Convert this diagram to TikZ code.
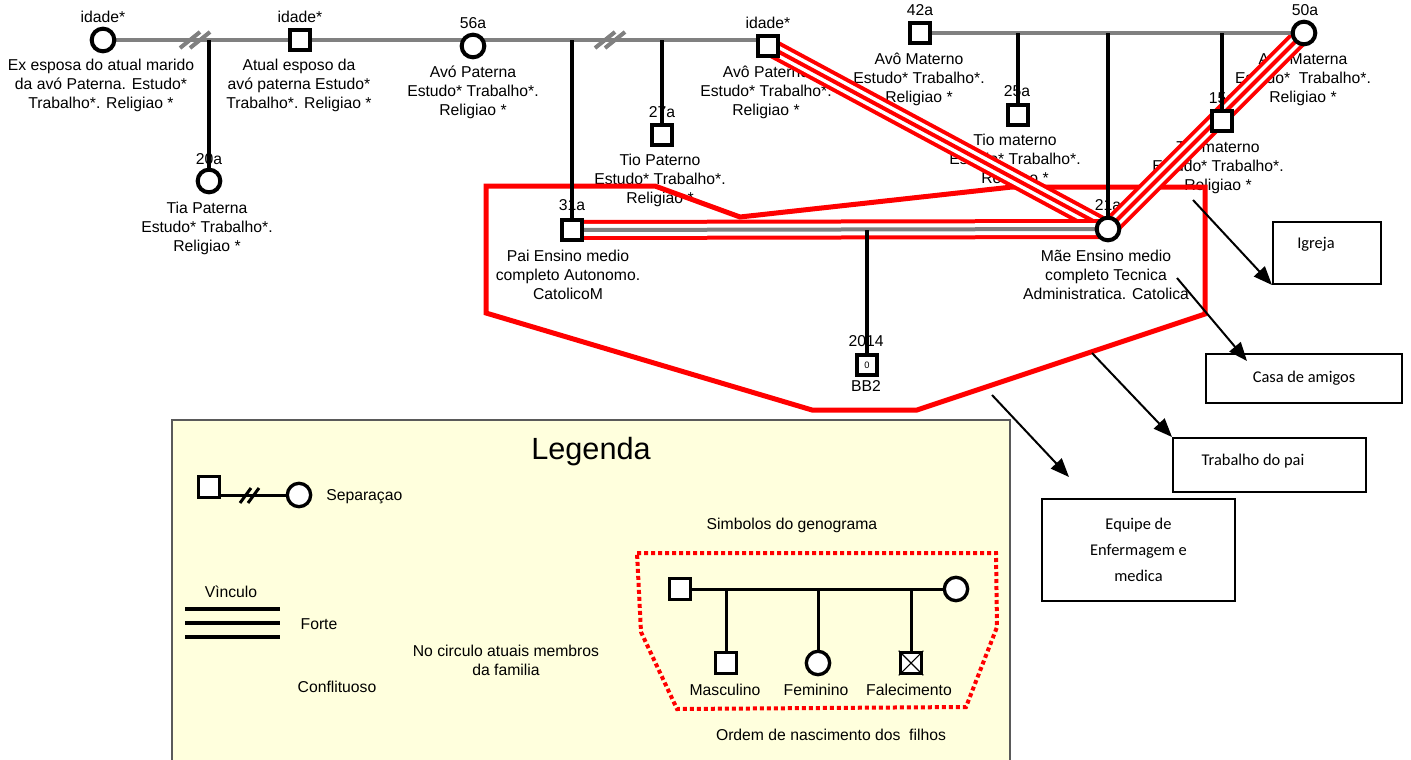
\documentclass[tikz,border=0pt]{standalone}
\usepackage{fontspec}
\setmainfont{Liberation Sans}
\newfontfamily\calib{Carlito}
\usetikzlibrary{arrows.meta}
\pgfdeclarelayer{bgl}
\pgfdeclarelayer{txt}
\pgfdeclarelayer{lns}
\pgfsetlayers{bgl,txt,lns,main}
\definecolor{legfill}{RGB}{255,255,221}
\definecolor{legdraw}{RGB}{90,90,90}
\definecolor{lgray}{RGB}{128,128,128}
\begin{document}
\begin{tikzpicture}[x=0.75pt,y=-0.75pt,
  lbl/.style={align=center, inner sep=0pt, font=\fontsize{11.8}{14.25}\selectfont},
  msq/.style={rectangle, draw=black, line width=3pt, fill=white, minimum size=15.5pt, inner sep=0pt},
  fci/.style={circle, draw=black, line width=3pt, fill=white, minimum size=17pt, inner sep=0pt},
  lsq/.style={rectangle, draw=black, line width=2.5pt, fill=white, minimum size=16pt, inner sep=0pt},
  lci/.style={circle, draw=black, line width=2.5pt, fill=white, minimum size=17.5pt, inner sep=0pt},
  gline/.style={draw=lgray, line width=3pt},
  kline/.style={draw=black, line width=3pt},
  lline/.style={draw=black, line width=2.25pt},
  famc/.style={draw=red, line width=3.75pt, line join=miter},
  forte/.style={draw=red, line width=14.25pt, postaction={draw=white, line width=8.25pt}, postaction={draw=red, line width=3pt}},
  forteg/.style={draw=red, line width=15pt, postaction={draw=white, line width=9pt}, postaction={draw=lgray, line width=3pt}},
  rbox/.style={draw=black, line width=1.5pt, inner sep=0pt},
  btxt/.style={font=\calib\fontsize{12.3}{19.5}\selectfont, align=center, inner sep=0pt},
  arr/.style={draw=black, line width=1.5pt, -{Triangle[length=14pt,width=11pt]}},
  dotbox/.style={draw=red, line width=3pt, dash pattern=on 3pt off 2.25pt}
]
\useasboundingbox (0,0) rectangle (1411,760);

% ---------- symbols (main layer) ----------
\node[fci] (exesp) at (103,40) {};
\node[msq] (atesp) at (300,40) {};
\node[fci] (avop) at (473,46) {};
\node[msq] (avopat) at (768,46) {};
\node[fci] (tiapat) at (209,181) {};
\node[msq] (tiop) at (662,135) {};
\node[msq] (pai) at (572,230) {};
\node[msq] (avom) at (920,33) {};
\node[fci] (avoma) at (1304,33) {};
\node[msq] (tiom1) at (1018,115) {};
\node[msq] (tiom2) at (1222,121) {};
\node[fci] (mae) at (1108,229) {};
\node[msq, font=\fontsize{7}{8}\selectfont] (bb) at (867,365) {0};

\coordinate (sep1) at (195,40);
\coordinate (sep2) at (610,40);
\coordinate (d1) at (209,40);
\coordinate (d2) at (572,40);
\coordinate (d3) at (662,40);
\coordinate (d4) at (1018,33);
\coordinate (d5) at (1108,33);
\coordinate (d6) at (1222,33);
\coordinate (dc) at (867,230);

% ---------- labels ----------
\begin{pgfonlayer}{txt}
\node[lbl] (t1) at (103,17) {idade*};
\node[lbl] (t2) at (101,85) {Ex esposa do atual marido\\da avó Paterna. Estudo*\\Trabalho*. Religiao *};
\node[lbl] (t3) at (300,17) {idade*};
\node[lbl] (t4) at (299,85) {Atual esposo da\\avó paterna Estudo*\\Trabalho*. Religiao *};
\node[lbl] (t5) at (209,159) {20a};
\node[lbl] (t6) at (207,228) {Tia Paterna\\Estudo* Trabalho*.\\Religiao *};
\node[lbl] (t7) at (473,23) {56a};
\node[lbl] (t8) at (473,92) {Avó Paterna\\Estudo* Trabalho*.\\Religiao *};
\node[lbl] (t9) at (662,112) {27a};
\node[lbl] (t10) at (660,180) {Tio Paterno\\Estudo* Trabalho*.\\Religiao *};
\node[lbl] (t11) at (768,23) {idade*};
\node[lbl] (t12) at (766,92) {Avô Paterno\\Estudo* Trabalho*.\\Religiao *};
\node[lbl] (t13) at (920,10) {42a};
\node[lbl] (t14) at (919,79) {Avô Materno\\Estudo* Trabalho*.\\Religiao *};
\node[lbl] (t15) at (1017,91) {25a};
\node[lbl] (t16) at (1015,160) {Tio materno\\Estudo* Trabalho*.\\Religiao *};
\node[lbl] (t17) at (1305,10) {50a};
\node[lbl] (t18) at (1303,79) {Avó Materna\\Estudo*\ \ Trabalho*.\\Religiao *};
\node[lbl] (t19) at (1222,98) {15a};
\node[lbl] (t20) at (1218,167) {Tio materno\\Estudo* Trabalho*.\\Religiao *};
\node[lbl] (t21) at (572,205) {31a};
\node[lbl] (t22) at (568,275) {Pai Ensino medio\\completo Autonomo.\\CatolicoM};
\node[lbl] (t23) at (1108,205) {21a};
\node[lbl] (t24) at (1106,275) {Mãe Ensino medio\\completo Tecnica\\Administratica. Catolica};
\node[lbl] (t25) at (866,341) {2014};
\node[lbl] (t26) at (866,386) {BB2};
\end{pgfonlayer}

% ---------- lines ----------
\begin{pgfonlayer}{lns}
\draw[famc] (486,186) -- (655,186) -- (740,217) -- (1012,187) -- (1205,187) -- (1205,314) -- (917,410) -- (812,410) -- (486,313) -- cycle;
\draw[forte] (avopat.center) -- (mae.center);
\draw[forte] (avoma.center) -- (mae.center);
\draw[forteg] (pai.center) -- (mae.center);
\draw[gline] (exesp) -- (avopat.west |- exesp);
\draw[gline] (avom) -- (avoma);
\draw[gline] ([shift={(-15,8)}]sep1) -- ([shift={(5,-8)}]sep1);
\draw[gline] ([shift={(-5,8)}]sep1) -- ([shift={(15,-8)}]sep1);
\draw[gline] ([shift={(-15,8)}]sep2) -- ([shift={(5,-8)}]sep2);
\draw[gline] ([shift={(-5,8)}]sep2) -- ([shift={(15,-8)}]sep2);
\draw[kline] (d1) -- (tiapat);
\draw[kline] (d2) -- (pai);
\draw[kline] (d3) -- (tiop);
\draw[kline] (d4) -- (tiom1);
\draw[kline] (d5) -- (mae);
\draw[kline] (d6) -- (tiom2);
\draw[kline] (dc) -- (bb);
\end{pgfonlayer}

% ---------- legend ----------
\begin{pgfonlayer}{bgl}
\fill[legfill, draw=legdraw, line width=1.5pt] (172,420) rectangle (1010,775);
\end{pgfonlayer}
\begin{pgfonlayer}{txt}
\node[lbl, font=\fontsize{23}{26}\selectfont] (leg) at (591,452) {Legenda};
\node[lbl, anchor=west] (lsep) at (326,497) {Separaçao};
\node[lbl] (lvin) at (231,592) {Vìnculo};
\node[lbl] (lfor) at (319,624) {Forte};
\node[lbl] (lcon) at (337,687) {Conflituoso};
\node[lbl] (lcir) at (506,660) {No circulo atuais membros\\da familia};
\node[lbl] (lsim) at (792,525) {Simbolos do genograma};
\node[lbl] (lmas) at (725,690) {Masculino};
\node[lbl] (lfem) at (816,690) {Feminino};
\node[lbl] (lfal) at (909,690) {Falecimento};
\node[lbl] (lord) at (831,735) {Ordem de nascimento dos\ \ filhos};
\end{pgfonlayer}

\node[lsq] (ls1) at (209,487) {};
\node[lci] (lc1) at (299,495) {};
\begin{pgfonlayer}{lns}
\draw[lline] (ls1.east |- lc1) -- (lc1);
\draw[lline] (240,503) -- (251,488);
\draw[lline] (248,503) -- (259,488);
\draw[kline] (185,609) -- (280,609);
\draw[kline] (185,623) -- (280,623);
\draw[kline] (185,637) -- (280,637);
\draw[dotbox] (637,553) -- (996,553) -- (997,627) -- (966,707) -- (677,709) -- (641,632) -- cycle;
\end{pgfonlayer}

\node[lsq] (gpa) at (680,589) {};
\node[lci] (gma) at (956,589) {};
\node[lsq] (gmas) at (726,663) {};
\node[lci] (gfem) at (818,663) {};
\node[lsq] (gfal) at (911,663) {};
\draw[line width=0.8pt] (gfal.north west) -- (gfal.south east) (gfal.north east) -- (gfal.south west);
\coordinate (g1) at (726,589);
\coordinate (g2) at (818,589);
\coordinate (g3) at (911,589);
\begin{pgfonlayer}{lns}
\draw[lline] (gpa) -- (gma);
\draw[lline] (g1) -- (gmas);
\draw[lline] (g2) -- (gfem);
\draw[lline] (g3) -- (gfal);
\end{pgfonlayer}

% ---------- boxes and arrows ----------
\node[rbox, minimum width=81pt, minimum height=46.5pt] (igreja) at (1327,253) {};
\node[btxt] (igrejaT) at (1316,244) {Igreja};
\node[rbox, minimum width=147pt, minimum height=36.75pt, btxt] (casa) at (1304,378.5) {Casa de amigos};
\node[rbox, minimum width=144.75pt, minimum height=40.5pt] (trab) at (1269.5,465) {};
\node[btxt] (trabT) at (1253,461) {Trabalho do pai};
\node[rbox, minimum width=144.75pt, minimum height=76.5pt, btxt] (equipe) at (1138.5,550) {Equipe de\\Enfermagem e\\medica};

\coordinate (a1) at (1193,200);
\coordinate (a2) at (1177,278);
\coordinate (a3) at (1092,353);
\coordinate (a4) at (992,395);
\draw[arr] (a1) -- (igreja.south west);
\draw[arr] (a2) -- ([shift={(42,8)}]casa.north west);
\draw[arr] (a3) -- (trab.north west);
\draw[arr] (a4) -- ([shift={(28,-21)}]equipe.north west);
\end{tikzpicture}
\end{document}
